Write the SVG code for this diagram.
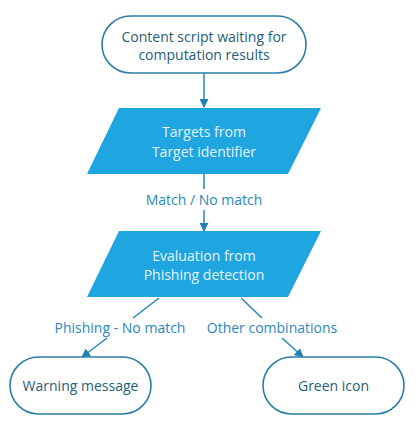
<svg xmlns="http://www.w3.org/2000/svg" width="420" height="440" viewBox="0 0 420 440">
<style>
.term{fill:#ffffff;stroke:#2a7ea6;stroke-width:1.6}
.io{fill:#1fa5e0;stroke:none}
.tt{font-family:"Open Sans","Liberation Sans",sans-serif;font-size:14px;fill:#245e78;text-anchor:middle}
.it{font-family:"Open Sans","Liberation Sans",sans-serif;font-size:14px;fill:#e4f3fb;text-anchor:middle}
.lbl{font-family:"Open Sans","Liberation Sans",sans-serif;font-size:14px;fill:#2a88bd;text-anchor:middle}
.ln{stroke:#2a86b8;stroke-width:1.5;fill:none}
</style>
<defs>
<marker id="ah" viewBox="0 0 10 10" refX="9" refY="5" markerWidth="9" markerHeight="9" markerUnits="userSpaceOnUse" orient="auto">
<path d="M0,0 L10,5 L0,10 z" fill="#1f7fae"/>
</marker>
</defs>
<rect width="420" height="440" fill="#ffffff"/>
<g id="connectors">
<line class="ln" x1="204" y1="73" x2="204" y2="107" marker-end="url(#ah)"/>
<line class="ln" x1="204" y1="174" x2="204" y2="189"/>
<line class="ln" x1="204" y1="210" x2="204" y2="231" marker-end="url(#ah)"/>
<line class="ln" x1="159" y1="298" x2="133" y2="318"/>
<line class="ln" x1="107" y1="338" x2="82" y2="357" marker-end="url(#ah)"/>
<line class="ln" x1="241" y1="298" x2="262" y2="318"/>
<line class="ln" x1="282" y1="338" x2="303" y2="357" marker-end="url(#ah)"/>
<text class="lbl" x="204" y="205">Match / No match</text>
<text class="lbl" x="120" y="333">Phishing - No match</text>
<text class="lbl" x="272" y="333">Other combinations</text>
</g>
<g id="start">
<rect class="term" x="102" y="16" width="204" height="57" rx="28.5"/>
<text class="tt" x="204" y="42">Content script waiting for</text>
<text class="tt" x="204" y="60">computation results</text>
</g>
<g id="targets">
<polygon class="io" points="119,108 321,108 288,174 87,174"/>
<text class="it" x="204" y="137">Targets from</text>
<text class="it" x="204" y="157">Target identifier</text>
</g>
<g id="evaluation">
<polygon class="io" points="119,231 321,231 288,297 87,297"/>
<text class="it" x="204" y="261">Evaluation from</text>
<text class="it" x="204" y="280">Phishing detection</text>
</g>
<g id="warning">
<rect class="term" x="10" y="357" width="141" height="57" rx="28.5"/>
<text class="tt" x="80.5" y="391">Warning message</text>
</g>
<g id="green">
<rect class="term" x="263" y="357" width="141" height="57" rx="28.5"/>
<text class="tt" x="333.5" y="391">Green icon</text>
</g>
</svg>
